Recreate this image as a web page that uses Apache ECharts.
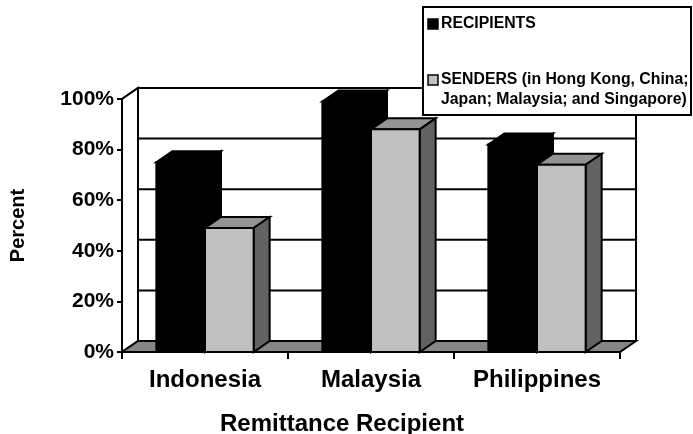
<!DOCTYPE html>
<html>
<head>
<meta charset="utf-8">
<script src="https://cdn.jsdelivr.net/npm/echarts@6/dist/echarts.min.js"></script>
<style>
  html, body { margin: 0; padding: 0; background: #fff; }
  #chart { width: 693px; height: 434px; }
</style>
</head>
<body>
<div id="chart"></div>
<script>
// Share of respondents (percent) by remittance recipient country
const categories = ['Indonesia', 'Malaysia', 'Philippines'];
const recipients = [75, 99, 82];
const senders = [49, 88, 74];
const yTicks = [0, 20, 40, 60, 80, 100];

const seriesNames = ['RECIPIENTS', 'SENDERS (in Hong Kong, China;\nJapan; Malaysia; and Singapore)'];

// Oblique depth used for the 3-D walls and columns
const DX = 16, DY = -11;
const FONT = 'Liberation Sans, Arial, sans-serif';
const LINE = '#000';

function poly(points, fill, z2) {
  return {
    type: 'polygon',
    z2: z2 || 0,
    shape: { points: points },
    style: { fill: fill, stroke: LINE, lineWidth: 2, lineJoin: 'miter' }
  };
}

// Back wall, side wall and floor of the plot box
function renderWalls(params, api) {
  const cs = params.coordSys;
  const L = cs.x, R = cs.x + cs.width, T = cs.y, B = cs.y + cs.height;
  return {
    type: 'group',
    children: [
      poly([[L + DX, T + DY], [R + DX, T + DY], [R + DX, B + DY], [L + DX, B + DY]], '#fff', 0),
      poly([[L, T], [L + DX, T + DY], [L + DX, B + DY], [L, B]], '#fff', 1),
      poly([[L, B], [R, B], [R + DX, B + DY], [L + DX, B + DY]], '#868686', 2)
    ]
  };
}

// Gridlines running across the side wall and along the back wall
function renderGrid(params, api) {
  const cs = params.coordSys;
  const L = cs.x, R = cs.x + cs.width;
  const y = api.coord([0, api.value(1)])[1];
  const st = { stroke: LINE, lineWidth: 2 };
  return {
    type: 'group',
    children: [
      { type: 'line', shape: { x1: L, y1: y, x2: L + DX, y2: y + DY }, style: st },
      { type: 'line', shape: { x1: L + DX, y1: y + DY, x2: R + DX, y2: y + DY }, style: st }
    ]
  };
}

function columnRenderer(side, front, top, right) {
  return function (params, api) {
    const ci = api.value(0), v = api.value(1);
    const pTop = api.coord([ci, v]);
    const pBase = api.coord([ci, 0]);
    const bw = api.size([1, 0])[0];
    const w = bw * 0.293;
    const x0 = side < 0 ? pTop[0] - w : pTop[0];
    const x1 = x0 + w;
    const yt = pTop[1], yb = pBase[1];
    return {
      type: 'group',
      children: [
        poly([[x0, yt], [x1, yt], [x1 + DX, yt + DY], [x0 + DX, yt + DY]], top, 1),
        poly([[x1, yt], [x1 + DX, yt + DY], [x1 + DX, yb + DY], [x1, yb]], right, 1),
        poly([[x0, yt], [x1, yt], [x1, yb], [x0, yb]], front, 2)
      ]
    };
  };
}

const chart = echarts.init(document.getElementById('chart'), null, { renderer: 'canvas' });

const LEGEND_Z = 100;

chart.setOption({
  animation: false,
  backgroundColor: '#fff',
  grid: { left: 122, right: 73, top: 99, bottom: 82, containLabel: false, outerBoundsMode: 'none' },
  xAxis: {
    type: 'category',
    data: categories,
    boundaryGap: true,
    name: 'Remittance Recipient',
    nameLocation: 'middle',
    nameGap: 60,
    nameTextStyle: { fontFamily: FONT, fontWeight: 'bold', fontSize: 24, color: '#000',
                     padding: [0, 58, 0, 0] },
    axisLine: { show: true, lineStyle: { color: LINE, width: 2 } },
    axisTick: { show: true, length: 7, lineStyle: { color: LINE, width: 2 } },
    axisLabel: { interval: 0, fontFamily: FONT, fontWeight: 'bold', fontSize: 24, color: '#000', margin: 16 },
    splitLine: { show: false },
    z: 5
  },
  yAxis: {
    type: 'value',
    min: 0,
    max: 100,
    interval: 20,
    name: 'Percent',
    nameLocation: 'middle',
    nameRotate: 90,
    nameGap: 94,
    nameTextStyle: { fontFamily: FONT, fontWeight: 'bold', fontSize: 20, color: '#000' },
    axisLine: { show: true, lineStyle: { color: LINE, width: 2 } },
    axisTick: { show: true, length: 5, lineStyle: { color: LINE, width: 2 } },
    axisLabel: {
      fontFamily: FONT, fontWeight: 'bold', fontSize: 21, color: '#000', margin: 8,
      formatter: function (v) { return v + '%'; }
    },
    splitLine: { show: false },
    z: 5
  },
  series: [
    {
      type: 'custom', name: 'walls', clip: false, z: 1, silent: true,
      renderItem: renderWalls,
      data: [[0, 0]]
    },
    {
      type: 'custom', name: 'grid', clip: false, z: 1, silent: true,
      renderItem: renderGrid,
      data: yTicks.map(function (t) { return [0, t]; })
    },
    {
      type: 'custom', name: seriesNames[0], clip: false, z: 3,
      renderItem: columnRenderer(-1, '#000', '#000', '#000'),
      data: recipients.map(function (v, i) { return [i, v]; })
    },
    {
      type: 'custom', name: seriesNames[1], clip: false, z: 4,
      renderItem: columnRenderer(1, '#c0c0c0', '#939393', '#626262'),
      data: senders.map(function (v, i) { return [i, v]; })
    }
  ],
  graphic: [
    { type: 'rect', z: LEGEND_Z, shape: { x: 423, y: 7, width: 268, height: 108 },
      style: { fill: '#fff', stroke: '#000', lineWidth: 2 } },
    { type: 'rect', z: LEGEND_Z + 1, shape: { x: 428, y: 19, width: 10, height: 10 },
      style: { fill: '#000', stroke: '#000', lineWidth: 1.5 } },
    { type: 'text', z: LEGEND_Z + 1, x: 441, y: 24,
      style: { text: seriesNames[0], fontFamily: FONT, fontWeight: 'bold', fontSize: 15.8,
               fill: '#000', verticalAlign: 'middle' } },
    { type: 'rect', z: LEGEND_Z + 1, shape: { x: 428, y: 75, width: 10, height: 10 },
      style: { fill: '#c0c0c0', stroke: '#000', lineWidth: 1.5 } },
    { type: 'text', z: LEGEND_Z + 1, x: 441, y: 70,
      style: { text: seriesNames[1], fontFamily: FONT, fontWeight: 'bold', fontSize: 15.8,
               lineHeight: 20, fill: '#000', verticalAlign: 'top', align: 'left' } }
  ]
});
</script>
</body>
</html>
